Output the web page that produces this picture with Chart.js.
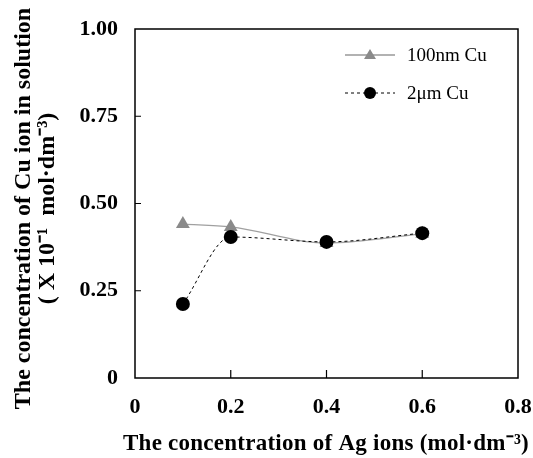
<!DOCTYPE html>
<html>
<head>
<meta charset="utf-8">
<script src="https://cdn.jsdelivr.net/npm/chart.js@4/dist/chart.umd.min.js"></script>
<style>
  html, body { margin: 0; padding: 0; background: #fff; }
  #wrap { width: 533px; height: 458px; }
</style>
</head>
<body>
<div id="wrap"><canvas id="c" width="533" height="458"></canvas></div>
<script>
// Ag ion concentration (mol·dm⁻³)
const agConc = [0.1, 0.2, 0.4, 0.6];
// Cu ion concentration in solution (×10⁻¹ mol·dm⁻³)
const cu100nm = [0.441, 0.433, 0.387, 0.413];
const cu2um = [0.212, 0.404, 0.390, 0.415];

const xTicks = [0, 0.2, 0.4, 0.6, 0.8];
const yTicks = [0, 0.25, 0.5, 0.75, 1.0];

const seriesNames = ['100nm Cu', '2\u03bcm Cu'];
const xTitle = 'The concentration of Ag ions (mol\u00b7dm\u207b\u00b3)';
const yTitle = ['The concentration of Cu ion in solution', '( X 10\u207b\u00b9  mol\u00b7dm\u207b\u00b3)'];

const serif = '"Liberation Serif", "Times New Roman", serif';

// Draws text spread to a given overall width
function spreadText(ctx, text, cx, y, width) {
  if ('letterSpacing' in ctx) ctx.letterSpacing = '0px';
  const w = ctx.measureText(text).width;
  const n = Array.from(text).length;
  const extra = Math.max(0, (width - w) / n);
  if ('letterSpacing' in ctx) {
    ctx.letterSpacing = extra + 'px';
    ctx.textAlign = 'left';
    ctx.fillText(text, cx - width / 2, y);
    ctx.letterSpacing = '0px';
  } else {
    ctx.textAlign = 'center';
    ctx.fillText(text, cx, y);
  }
}

// Frame, inward ticks, axis titles and legend
const framePlugin = {
  id: 'frame',
  afterDatasetsDraw(chart) {
    const { ctx, chartArea: a, scales } = chart;
    ctx.save();
    ctx.strokeStyle = '#000';
    ctx.lineWidth = 1.5;
    ctx.strokeRect(a.left, a.top, a.right - a.left, a.bottom - a.top);
    ctx.lineWidth = 1.2;
    ctx.beginPath();
    xTicks.slice(1, -1).forEach(v => {
      const px = scales.x.getPixelForValue(v);
      ctx.moveTo(px, a.bottom);
      ctx.lineTo(px, a.bottom - 8);
    });
    yTicks.slice(1, -1).forEach(v => {
      const py = scales.y.getPixelForValue(v);
      ctx.moveTo(a.left, py);
      ctx.lineTo(a.left + 6, py);
    });
    ctx.stroke();

    // axis titles
    ctx.fillStyle = '#000';
    ctx.textBaseline = 'alphabetic';
    ctx.font = 'bold 23px ' + serif;
    spreadText(ctx, xTitle, 326, 450, 406);
    ctx.font = 'bold 24px ' + serif;
    ctx.textAlign = 'center';
    ctx.save();
    ctx.translate(0, (a.top + a.bottom) / 2 + 5);
    ctx.rotate(-Math.PI / 2);
    ctx.fillText(yTitle[0], 0, 30);
    ctx.fillText(yTitle[1], 0, 54);
    ctx.restore();

    // legend
    const lx = 345, lw = 50;
    const rows = [55, 93];
    ctx.textAlign = 'left';
    ctx.font = '19px ' + serif;
    ctx.textBaseline = 'middle';
    // row 1
    ctx.strokeStyle = '#999';
    ctx.lineWidth = 1.3;
    ctx.setLineDash([]);
    ctx.beginPath();
    ctx.moveTo(lx, rows[0]); ctx.lineTo(lx + lw, rows[0]);
    ctx.stroke();
    ctx.fillStyle = '#8a8a8a';
    ctx.beginPath();
    ctx.moveTo(lx + 25, rows[0] - 6);
    ctx.lineTo(lx + 31, rows[0] + 4);
    ctx.lineTo(lx + 19, rows[0] + 4);
    ctx.closePath();
    ctx.fill();
    ctx.fillStyle = '#000';
    ctx.fillText(seriesNames[0], 407, rows[0] + 1);
    // row 2
    ctx.strokeStyle = '#000';
    ctx.lineWidth = 1;
    ctx.setLineDash([3, 3]);
    ctx.beginPath();
    ctx.moveTo(lx, rows[1]); ctx.lineTo(lx + lw, rows[1]);
    ctx.stroke();
    ctx.setLineDash([]);
    ctx.beginPath();
    ctx.arc(lx + 25, rows[1], 6, 0, Math.PI * 2);
    ctx.fill();
    ctx.fillText(seriesNames[1], 407, rows[1] + 1);
    ctx.restore();
  }
};

new Chart(document.getElementById('c'), {
  type: 'scatter',
  data: {
    datasets: [
      {
        label: seriesNames[0],
        data: agConc.map((x, i) => ({ x, y: cu100nm[i] })),
        showLine: true,
        borderColor: '#a0a0a0',
        borderWidth: 1.3,
        pointStyle: 'triangle',
        pointRadius: 8,
        pointBackgroundColor: '#8a8a8a',
        pointBorderColor: '#8a8a8a',
        pointBorderWidth: 0,
        cubicInterpolationMode: 'monotone',
        order: 2
      },
      {
        label: seriesNames[1],
        data: agConc.map((x, i) => ({ x, y: cu2um[i] })),
        showLine: true,
        borderColor: '#000',
        borderWidth: 1,
        borderDash: [3, 3],
        pointStyle: 'circle',
        pointRadius: 7,
        pointBackgroundColor: '#000',
        pointBorderColor: '#000',
        pointBorderWidth: 0,
        cubicInterpolationMode: 'monotone',
        order: 1
      }
    ]
  },
  options: {
    responsive: false,
    animation: false,
    layout: { padding: { left: 0, top: 29, right: 15, bottom: 0 } },
    plugins: { legend: { display: false }, tooltip: { enabled: false } },
    scales: {
      x: {
        type: 'linear',
        min: 0, max: 0.8,
        afterBuildTicks: s => { s.ticks = xTicks.map(v => ({ value: v })); },
        afterFit: s => { s.height = 80; s.paddingLeft = 0; s.paddingRight = 0; },
        grid: { display: false, drawTicks: false },
        border: { display: false },
        ticks: {
          padding: 16,
          color: '#000',
          font: { family: serif, size: 22, weight: 'bold' },
          callback: v => v === 0 ? '0' : String(v)
        },
        title: { display: false }
      },
      y: {
        type: 'linear',
        min: 0, max: 1,
        afterBuildTicks: s => { s.ticks = yTicks.map(v => ({ value: v })); },
        afterFit: s => { s.width = 135; s.paddingTop = 0; s.paddingBottom = 0; },
        grid: { display: false, drawTicks: false },
        border: { display: false },
        ticks: {
          padding: 17,
          color: '#000',
          font: { family: serif, size: 22, weight: 'bold' },
          callback: v => v === 0 ? '0' : v.toFixed(2)
        },
        title: { display: false }
      }
    }
  },
  plugins: [framePlugin]
});
</script>
</body>
</html>
